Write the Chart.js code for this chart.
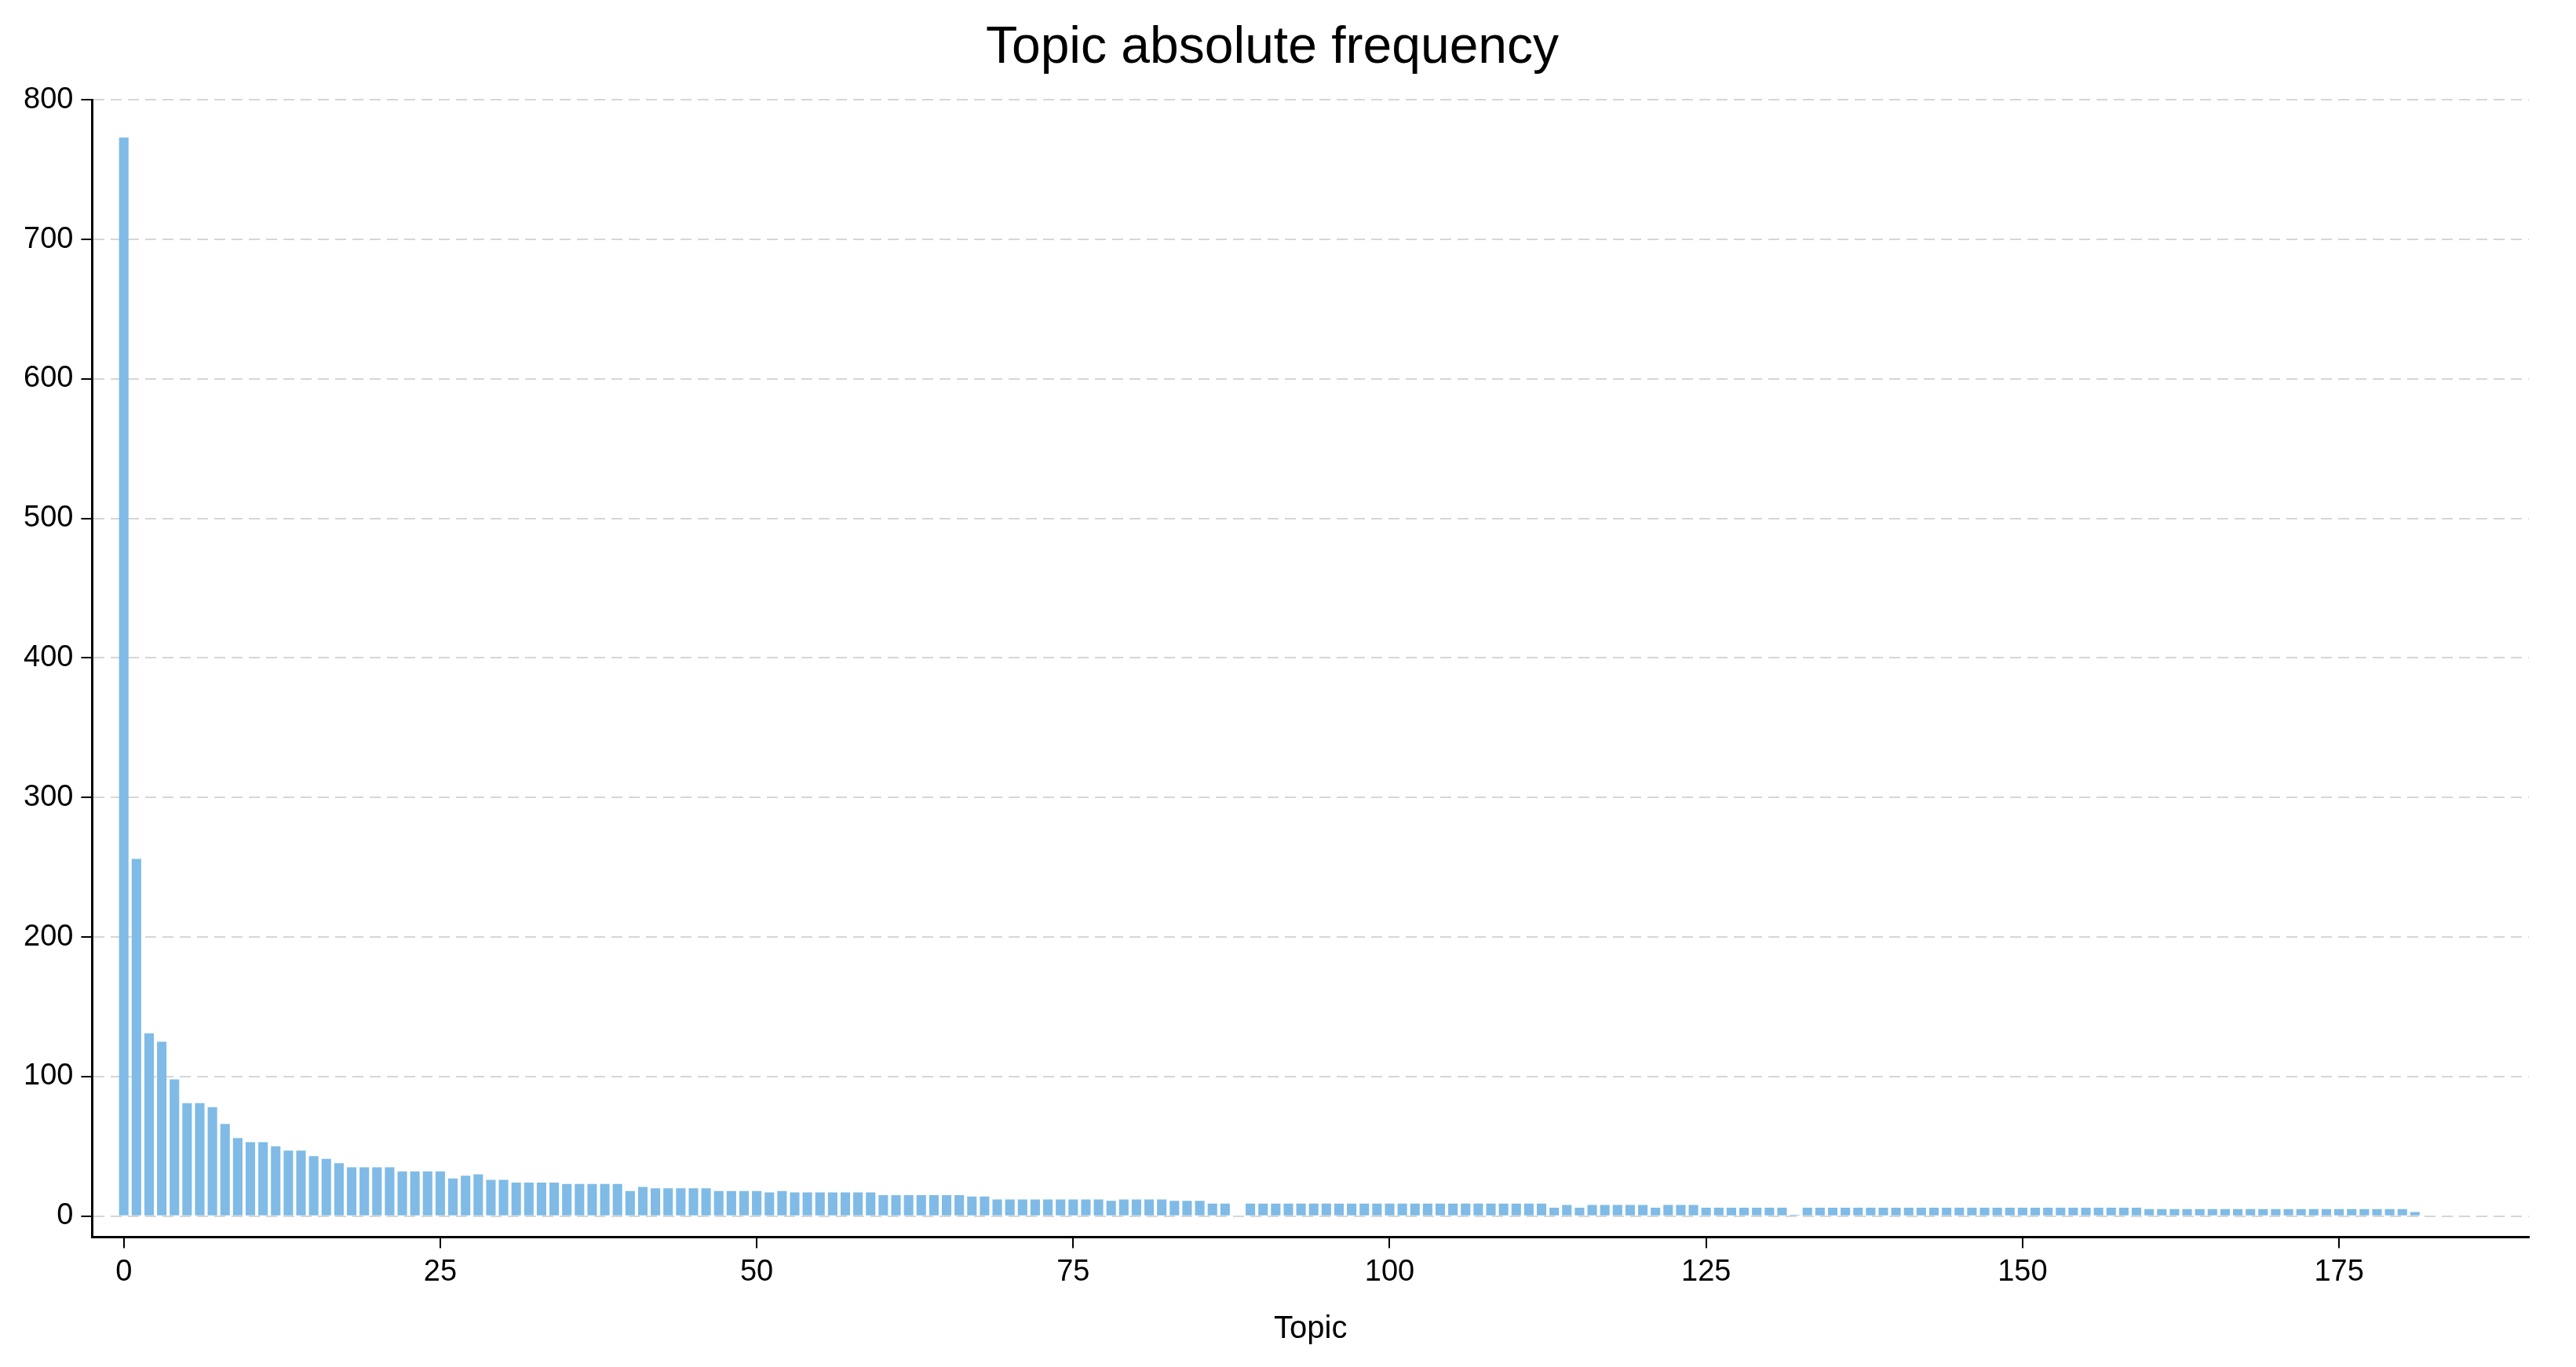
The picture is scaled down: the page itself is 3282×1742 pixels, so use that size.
<!DOCTYPE html>
<html>
<head>
<meta charset="utf-8">
<script src="https://cdn.jsdelivr.net/npm/chart.js@4"></script>
<style>
  html, body { margin: 0; padding: 0; background: #fff; }
  #wrap { width: 3282px; height: 1742px; }
</style>
</head>
<body>
<div id="wrap"><canvas id="freqChart" width="3282" height="1742"></canvas></div>
<script>
// topic frequencies (topic 0 .. 181)
const topicCounts = [
  773, 256, 131, 125, 98, 81, 81, 78, 66, 56,
  53, 53, 50, 47, 47, 43, 41, 38, 35, 35,
  35, 35, 32, 32, 32, 32, 27, 29, 30, 26,
  26, 24, 24, 24, 24, 23, 23, 23, 23, 23,
  18, 21, 20, 20, 20, 20, 20, 18, 18, 18,
  18, 17, 18, 17, 17, 17, 17, 17, 17, 17,
  15, 15, 15, 15, 15, 15, 15, 14, 14, 12,
  12, 12, 12, 12, 12, 12, 12, 12, 11, 12,
  12, 12, 12, 11, 11, 11, 9, 9, 0, 9,
  9, 9, 9, 9, 9, 9, 9, 9, 9, 9,
  9, 9, 9, 9, 9, 9, 9, 9, 9, 9,
  9, 9, 9, 6, 8, 6, 8, 8, 8, 8,
  8, 6, 8, 8, 8, 6, 6, 6, 6, 6,
  6, 6, 1, 6, 6, 6, 6, 6, 6, 6,
  6, 6, 6, 6, 6, 6, 6, 6, 6, 6,
  6, 6, 6, 6, 6, 6, 6, 6, 6, 6,
  5, 5, 5, 5, 5, 5, 5, 5, 5, 5,
  5, 5, 5, 5, 5, 5, 5, 5, 5, 5,
  5, 3
];
const yTicks = [0, 100, 200, 300, 400, 500, 600, 700, 800];
const xTicks = [0, 25, 50, 75, 100, 125, 150, 175];

const points = topicCounts.map((v, i) => ({ x: i, y: v }));
const font = 'Liberation Sans, Arial, sans-serif';

new Chart(document.getElementById('freqChart').getContext('2d'), {
    type: 'bar',
    data: {
        datasets: [{
            data: points,
            backgroundColor: '#7fbbe6',
            borderWidth: 0,
            barPercentage: 0.75,
            categoryPercentage: 1.0
        }]
    },
    options: {
        responsive: false,
        devicePixelRatio: 1,
        animation: false,
        layout: { padding: { left: 20, right: 60, top: 10, bottom: 20 } },
        plugins: {
            legend: { display: false },
            tooltip: { enabled: false },
            title: {
                display: true,
                text: 'Topic absolute frequency',
                color: '#000',
                font: { family: font, size: 66, weight: 'normal' },
                padding: { top: 12, bottom: 26 }
            }
        },
        scales: {
            x: {
                type: 'linear',
                offset: false,
                min: -2.5,
                max: 190,
                afterBuildTicks: axis => { axis.ticks = xTicks.map(v => ({ value: v })); },
                ticks: { color: '#000', font: { family: font, size: 38 }, padding: 8, maxRotation: 0 },
                grid: { offset: false, drawOnChartArea: false, drawTicks: true, tickLength: 14, color: '#000', lineWidth: 2 },
                border: { color: '#000', width: 3 },
                title: {
                    display: true,
                    text: 'Topic',
                    color: '#000',
                    font: { family: font, size: 40 },
                    padding: { top: 18 }
                }
            },
            y: {
                min: -15,
                max: 800,
                afterBuildTicks: axis => { axis.ticks = yTicks.map(v => ({ value: v })); },
                ticks: { color: '#000', font: { family: font, size: 38 }, padding: 10 },
                grid: {
                    color: '#d6d6d6',
                    lineWidth: 2,
                    tickLength: 14,
                    tickColor: '#000',
                    tickBorderDash: [],
                    tickWidth: 2
                },
                border: { color: '#000', width: 3, dash: [14, 8] }
            }
        }
    }
});
</script>
</body>
</html>
